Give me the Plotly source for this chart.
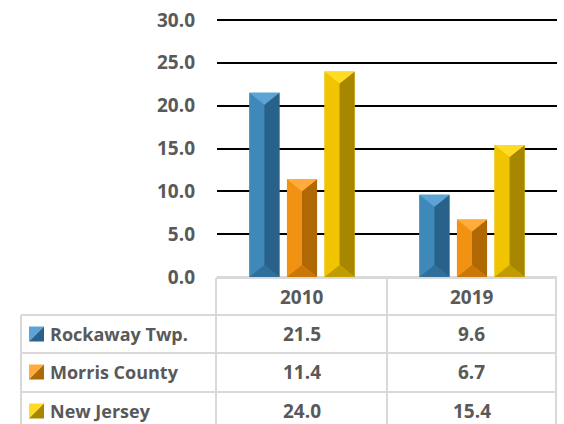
import plotly.graph_objects as go

# ---------------- data ----------------
categories = ["2010", "2019"]
series_names = ["Rockaway Twp.", "Morris County", "New Jersey"]
rockaway = [21.5, 9.6]
morris = [11.4, 6.7]
new_jersey = [24.0, 15.4]
y_ticks = [0, 5, 10, 15, 20, 25, 30]
y_tick_labels = ["0.0", "5.0", "10.0", "15.0", "20.0", "25.0", "30.0"]

series_values = [rockaway, morris, new_jersey]

# ---------------- style ----------------
W, H = 564, 424
FONT = "Open Sans"
TXT = "#595959"
GRID_LINE = "#d9d9d9"
palettes = [
    dict(light="#5ea3d5", mid="#3f88ba", dark="#28628a", bottom="#306f99"),
    dict(light="#ffac3c", mid="#f29212", dark="#b06805", bottom="#c97808"),
    dict(light="#ffdb24", mid="#f0c400", dark="#a88700", bottom="#c09c00"),
]

# layout geometry (pixels)
PLOT_L, PLOT_R = 217, 557
Y0_PX, Y30_PX = 277, 20
TABLE_L = 21
COL_X = [216, 387, 556]
ROW_Y = [278, 315, 353, 392, 431]
Y_MAX = 30.3  # small headroom so the top gridline is drawn


def px(x):
    return x / W


def py(y):
    return 1 - y / H


ppu = (Y0_PX - Y30_PX) / 30.0
y_top_px = Y0_PX - Y_MAX * ppu

offsets = [-0.221, 0.0, 0.221]
bar_w = 0.177
bevel = 12 / ppu

fig = go.Figure()

for j, (name, vals) in enumerate(zip(series_names, series_values)):
    pal = palettes[j]
    xs = [i + offsets[j] for i in range(len(categories))]
    fig.add_trace(go.Bar(
        x=xs, y=vals, width=bar_w, name=name,
        marker=dict(color=pal["mid"], line=dict(width=0)),
        showlegend=False, hoverinfo="skip",
    ))
    faces = {"left": ([], []), "right": ([], []), "top": ([], []), "bottom": ([], [])}
    for xc, v in zip(xs, vals):
        x0, x1 = xc - bar_w / 2, xc + bar_w / 2
        d = min(bevel, v / 2)
        polys = {
            "left": [(x0, 0), (x0, v), (xc, v - d), (xc, d)],
            "right": [(xc, d), (xc, v - d), (x1, v), (x1, 0)],
            "top": [(x0, v), (x1, v), (xc, v - d)],
            "bottom": [(x0, 0), (x1, 0), (xc, d)],
        }
        for k, pts in polys.items():
            fx, fy = faces[k]
            fx.extend([p[0] for p in pts] + [pts[0][0], None])
            fy.extend([p[1] for p in pts] + [pts[0][1], None])
    face_colors = {"left": pal["mid"], "right": pal["dark"],
                   "top": pal["light"], "bottom": pal["bottom"]}
    for k in ["left", "right", "top", "bottom"]:
        fx, fy = faces[k]
        fig.add_trace(go.Scatter(
            x=fx, y=fy, mode="lines", fill="toself",
            fillcolor=face_colors[k], line=dict(width=0, color=face_colors[k]),
            showlegend=False, hoverinfo="skip",
        ))

shapes = []
annotations = []

# table lines
shapes.append(dict(type="line", xref="paper", yref="paper",
                   x0=px(COL_X[0]), x1=px(COL_X[-1]), y0=py(ROW_Y[0]), y1=py(ROW_Y[0]),
                   line=dict(color=GRID_LINE, width=2)))
for yy in ROW_Y[1:-1]:
    shapes.append(dict(type="line", xref="paper", yref="paper",
                       x0=px(TABLE_L), x1=px(COL_X[-1]), y0=py(yy), y1=py(yy),
                       line=dict(color=GRID_LINE, width=2)))
shapes.append(dict(type="line", xref="paper", yref="paper",
                   x0=px(TABLE_L), x1=px(TABLE_L), y0=py(ROW_Y[1]), y1=py(ROW_Y[-1]),
                   line=dict(color=GRID_LINE, width=2)))
for xx in COL_X:
    shapes.append(dict(type="line", xref="paper", yref="paper",
                       x0=px(xx), x1=px(xx), y0=py(ROW_Y[0]), y1=py(ROW_Y[-1]),
                       line=dict(color=GRID_LINE, width=2)))

TFONT = dict(family=FONT, size=19, color=TXT, weight="bold")
LFONT = dict(family=FONT, size=18, color=TXT, weight="bold")

# header
for c, cat in enumerate(categories):
    cx = (COL_X[c] + COL_X[c + 1]) / 2
    cy = (ROW_Y[0] + ROW_Y[1]) / 2
    annotations.append(dict(x=px(cx), y=py(cy), xref="paper", yref="paper",
                            text=cat, showarrow=False, xanchor="center", yanchor="middle",
                            font=TFONT))

# rows
for r, (name, vals) in enumerate(zip(series_names, series_values)):
    cy = ROW_Y[r + 1] + 19
    pal = palettes[r]
    kx0, kx1 = 29, 44
    ky0, ky1 = cy - 7.5, cy + 7.5
    shapes.append(dict(type="path", xref="paper", yref="paper",
                       path=f"M {px(kx0)} {py(ky0)} L {px(kx1)} {py(ky0)} L {px(kx0)} {py(ky1)} Z",
                       fillcolor=pal["light"], line=dict(width=0)))
    shapes.append(dict(type="path", xref="paper", yref="paper",
                       path=f"M {px(kx1)} {py(ky0)} L {px(kx1)} {py(ky1)} L {px(kx0)} {py(ky1)} Z",
                       fillcolor=pal["dark"], line=dict(width=0)))
    annotations.append(dict(x=px(48), y=py(cy), xref="paper", yref="paper",
                            text=name, showarrow=False, xanchor="left", yanchor="middle",
                            font=LFONT))
    for c, v in enumerate(vals):
        cx = (COL_X[c] + COL_X[c + 1]) / 2
        annotations.append(dict(x=px(cx), y=py(cy), xref="paper", yref="paper",
                                text=f"{v:.1f}", showarrow=False, xanchor="center", yanchor="middle",
                                font=TFONT))

fig.update_layout(
    width=W, height=H,
    margin=dict(l=0, r=0, t=0, b=0, autoexpand=False),
    paper_bgcolor="white", plot_bgcolor="white",
    barmode="overlay",
    showlegend=False,
    xaxis=dict(domain=[px(PLOT_L), px(PLOT_R)], range=[-0.5, 1.5],
               showticklabels=False, showgrid=False, zeroline=False, showline=False,
               automargin=False, fixedrange=True),
    yaxis=dict(domain=[py(Y0_PX), py(y_top_px)], range=[0, Y_MAX],
               tickvals=y_ticks, ticktext=y_tick_labels,
               showgrid=True, gridcolor="black", gridwidth=2,
               zeroline=True, zerolinecolor=GRID_LINE, zerolinewidth=2,
               showline=False, ticks="", ticklabelstandoff=21,
               tickfont=TFONT, automargin=False, fixedrange=True),
    shapes=shapes,
    annotations=annotations,
)

fig.write_html(
    "out.html",
    config={"displayModeBar": False},
    post_script="document.body.style.margin='0px';document.body.style.overflow='hidden';",
)
